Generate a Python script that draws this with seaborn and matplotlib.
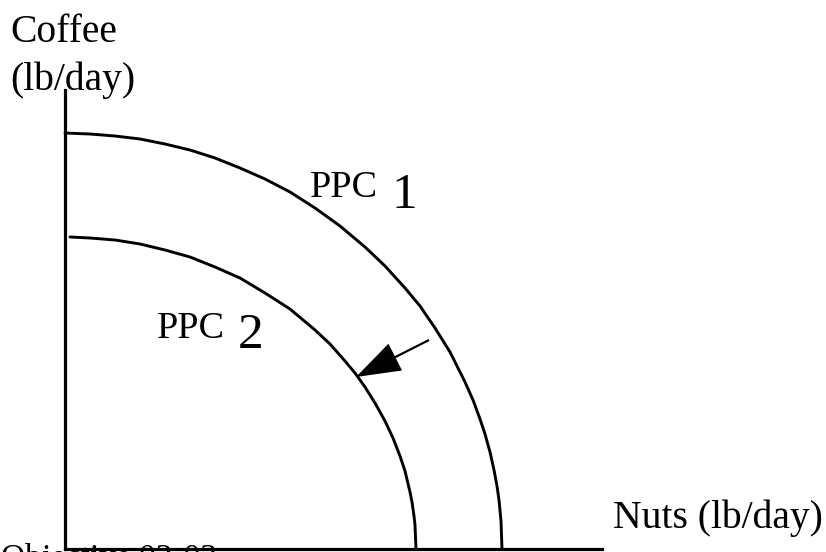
import matplotlib
matplotlib.use("Agg")
import matplotlib.pyplot as plt
import seaborn as sns

# Curve points (x = nuts, y = coffee, pixel-like units from the origin)
ppc1_nuts = [0, 25, 50, 75, 100, 125, 150, 175, 200, 225, 250, 275, 300, 320, 340,
             355, 370, 385, 400, 408, 415, 420, 425, 429, 432, 434, 436, 437]
ppc1_coffee = [416, 415, 413, 410, 405, 399, 391, 381, 370, 357, 341, 323, 302, 283, 261,
               243, 221, 197, 167, 149, 130, 115, 97, 79, 63, 49, 28, 0]
ppc2_nuts = [5, 25, 50, 75, 100, 125, 150, 175, 200, 225, 250, 265, 280, 290, 300,
             310, 320, 328, 335, 340, 345, 347, 349, 350, 351]
ppc2_coffee = [312, 311, 309, 305, 299, 292, 282, 271, 256, 240, 219, 205, 188, 176, 162,
               146, 128, 111, 93, 78, 57, 47, 33, 24, 0]

# shift arrow: tail on PPC 1 side, tip on PPC 2
arrow_tail = (364, 209)
arrow_tip = (291, 172)

W, H = 826, 552
fig = plt.figure(figsize=(W / 100, H / 100), dpi=100)
sns.set_style("white")
plt.rcParams['font.family'] = ['Liberation Serif', 'DejaVu Serif']

# axes placed so one data unit is about one pixel
x0, x1, y_axis, y_top = 65, 602, 549, 90
ax = fig.add_axes([x0 / W, (H - y_axis) / H, (x1 - x0) / W, (y_axis - y_top) / H])
ax.set_xlim(0, x1 - x0)
ax.set_ylim(0, y_axis - y_top)
ax.set_xticks([])
ax.set_yticks([])
for side in ['top', 'right']:
    ax.spines[side].set_visible(False)
for side in ['left', 'bottom']:
    ax.spines[side].set_color('black')
    ax.spines[side].set_linewidth(2.3)
ax.patch.set_alpha(0)

sns.lineplot(x=ppc1_nuts, y=ppc1_coffee, ax=ax, color='black', linewidth=2.1, clip_on=False)
sns.lineplot(x=ppc2_nuts, y=ppc2_coffee, ax=ax, color='black', linewidth=2.1, clip_on=False)

ax.arrow(arrow_tail[0], arrow_tail[1],
         arrow_tip[0] - arrow_tail[0], arrow_tip[1] - arrow_tail[1],
         width=2.2, head_width=30, head_length=44, length_includes_head=True,
         color='black', lw=0)

def px_text(x, y, s, size, **kw):
    fig.text(x / W, 1 - y / H, s, fontsize=size, va='baseline', ha='left',
             color='black', **kw)

px_text(10, 42, "Coffee", 28.5)
px_text(10, 90, "(lb/day)", 28.5)
px_text(613, 528, "Nuts (lb/day)", 28.5)
px_text(310, 197, "PPC", 27.5)
px_text(391, 208, "1", 37)
px_text(157, 338, "PPC", 27.5)
px_text(238, 348, "2", 37)
# footer is cut by the bottom edge in the original too
px_text(1, 567, "Objective 02-03", 24, zorder=0)

fig.savefig("out.png", dpi=100)
